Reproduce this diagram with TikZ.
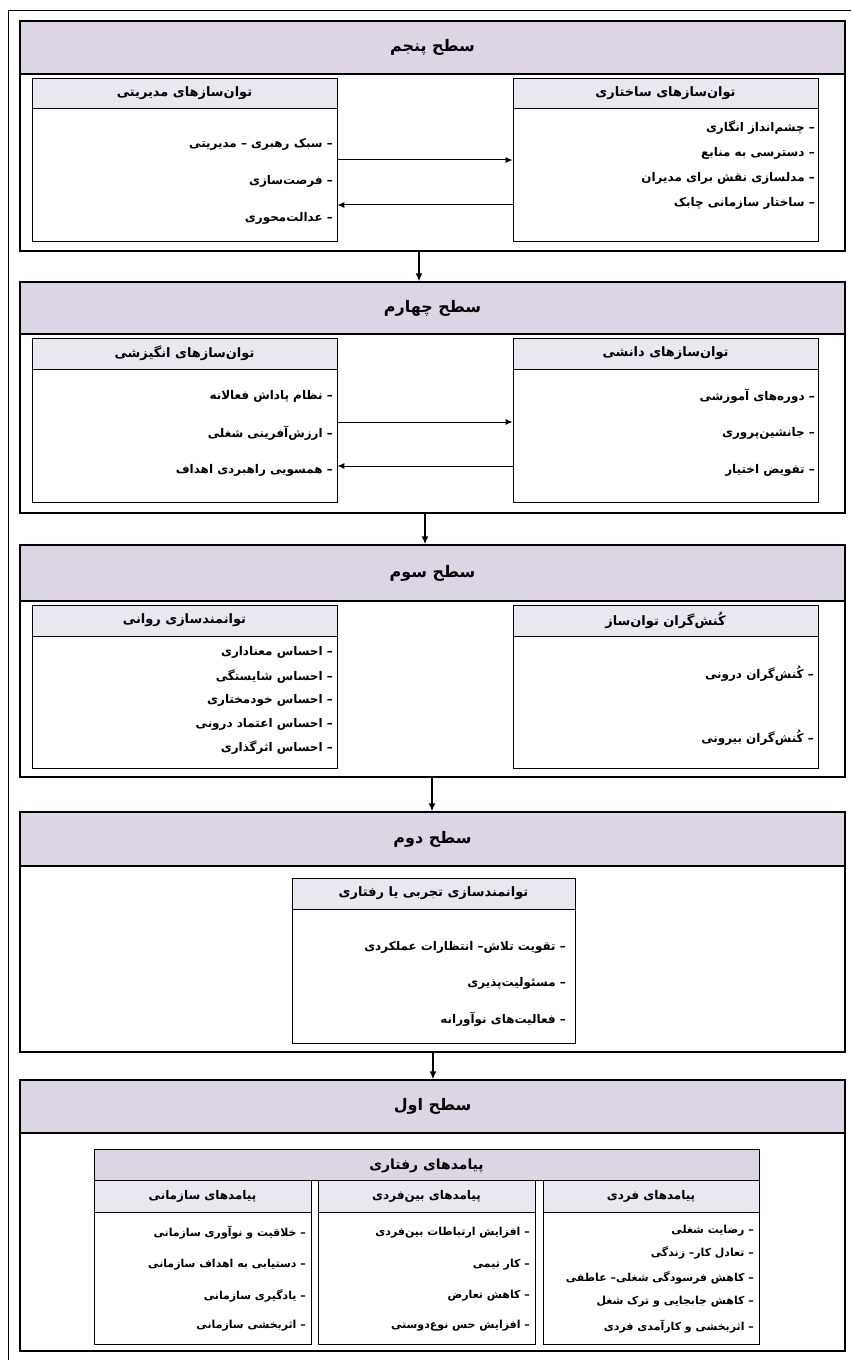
\documentclass[tikz,border=0pt]{standalone}
\usepackage{fontspec}
\usetikzlibrary{fit,arrows.meta}
\newfontfamily\fa[Script=Arabic]{DejaVu Sans}
\TeXXeTstate=1
\definecolor{headfill}{HTML}{DCD6E4}
\definecolor{subfill}{HTML}{EAE7F0}
\tikzset{
  frame/.style={draw=black, line width=1bp},
  lvl/.style={draw=black, line width=1.3bp, inner sep=0pt, fill=white},
  lvlhead/.style={draw=black, line width=1.3bp, inner sep=0pt, fill=headfill},
  lvltitle/.style={inner sep=0pt, font=\fa\bfseries\fontsize{16}{18}\selectfont},
  pbox/.style={draw=black, line width=0.9bp, inner sep=0pt, fill=white},
  pboxhead/.style={draw=black, line width=0.9bp, inner sep=0pt, fill=subfill},
  bighead/.style={draw=black, line width=0.9bp, inner sep=0pt, fill=headfill},
  boxtitle/.style={inner sep=0pt, font=\fa\bfseries\fontsize{13}{15}\selectfont},
  subtitle/.style={inner sep=0pt, font=\fa\bfseries\fontsize{12}{14}\selectfont},
  bigtitle/.style={inner sep=0pt, font=\fa\bfseries\fontsize{14}{16}\selectfont},
  itemtext/.style={anchor=east, inner sep=0pt, font=\fa\bfseries\fontsize{12}{14}\selectfont},
  smallitem/.style={anchor=east, inner sep=0pt, font=\fa\bfseries\fontsize{11}{13}\selectfont},
  harrow/.style={-{Latex[length=7bp,width=6bp]}, line width=1bp},
  varrow/.style={-{Latex[length=8bp,width=7bp]}, line width=1.8bp},
}
% level: name, top, headbottom, bottom, title
\newcommand{\level}[5]{%
  \node[lvl, fit={(20,#2) (845,#4)}] (#1) {};
  \node[lvlhead, fit={(20,#2) (845,#3)}] (#1h) {};
  \node[lvltitle] (#1t) at (#1h.center) {#5};
}
% inner box: style of title, name, x1, y1, x2, y2, yhead, title
\newcommand{\ibox}[8]{%
  \node[pbox, fit={(#3,#4) (#5,#6)}] (#2) {};
  \node[pboxhead, fit={(#3,#4) (#5,#7)}] (#2h) {};
  \node[#1] (#2t) at (#2h.center) {#8};
}
% item: style, name, x, y, text
\newcommand{\itm}[5]{\node[#1] (#2) at (#3,#4) {#5};}
\begin{document}
\begin{tikzpicture}[x=1bp,y=-1bp]
\useasboundingbox (0,0) rectangle (851,1360);
\draw[frame] (8.5,1360) -- (8.5,10.7) -- (851,10.7);

% ---------- Level 5 ----------
\level{L5}{21}{74}{251}{\beginR سطح پنجم\endR}
\ibox{boxtitle}{b5L}{32}{78}{337}{241}{108}{\beginR توان‌سازهای مدیریتی\endR}
\ibox{boxtitle}{b5R}{513}{78}{818}{241}{108}{\beginR توان‌سازهای ساختاری\endR}
\itm{itemtext}{i5L1}{333}{144}{\beginR – سبک رهبری – مدیریتی\endR}
\itm{itemtext}{i5L2}{333}{181}{\beginR – فرصت‌سازی\endR}
\itm{itemtext}{i5L3}{333}{218}{\beginR – عدالت‌محوری\endR}
\itm{itemtext}{i5R1}{815}{128}{\beginR – چشم‌انداز انگاری\endR}
\itm{itemtext}{i5R2}{815}{153}{\beginR – دسترسی به منابع\endR}
\itm{itemtext}{i5R3}{815}{178}{\beginR – مدلسازی نقش برای مدیران\endR}
\itm{itemtext}{i5R4}{815}{203}{\beginR – ساختار سازمانی چابک\endR}
\coordinate (h5a) at (0,160);
\coordinate (h5b) at (0,205);
\draw[harrow] (b5L.east |- h5a) -- (b5R.west |- h5a);
\draw[harrow] (b5R.west |- h5b) -- (b5L.east |- h5b);

% ---------- Level 4 ----------
\level{L4}{282}{334}{513}{\beginR سطح چهارم\endR}
\ibox{boxtitle}{b4L}{32}{338}{337}{502}{369}{\beginR توان‌سازهای انگیزشی\endR}
\ibox{boxtitle}{b4R}{513}{338}{818}{502}{369}{\beginR توان‌سازهای دانشی\endR}
\itm{itemtext}{i4L1}{333}{396}{\beginR – نظام پاداش فعالانه\endR}
\itm{itemtext}{i4L2}{333}{433}{\beginR – ارزش‌آفرینی شغلی\endR}
\itm{itemtext}{i4L3}{333}{470}{\beginR – همسویی راهبردی اهداف\endR}
\itm{itemtext}{i4R1}{815}{396}{\beginR – دوره‌های آموزشی\endR}
\itm{itemtext}{i4R2}{815}{433}{\beginR – جانشین‌پروری\endR}
\itm{itemtext}{i4R3}{815}{470}{\beginR – تفویض اختیار\endR}
\coordinate (h4a) at (0,422);
\coordinate (h4b) at (0,466);
\draw[harrow] (b4L.east |- h4a) -- (b4R.west |- h4a);
\draw[harrow] (b4R.west |- h4b) -- (b4L.east |- h4b);

% ---------- Level 3 ----------
\level{L3}{545}{601}{777}{\beginR سطح سوم\endR}
\ibox{boxtitle}{b3L}{32}{605}{337}{768}{636}{\beginR توانمندسازی روانی\endR}
\ibox{boxtitle}{b3R}{513}{605}{818}{768}{636}{\beginR کُنش‌گران توان‌ساز\endR}
\itm{itemtext}{i3L1}{333}{652}{\beginR – احساس معناداری\endR}
\itm{itemtext}{i3L2}{333}{677}{\beginR – احساس شایستگی\endR}
\itm{itemtext}{i3L3}{333}{700}{\beginR – احساس خودمختاری\endR}
\itm{itemtext}{i3L4}{333}{724}{\beginR – احساس اعتماد درونی\endR}
\itm{itemtext}{i3L5}{333}{748}{\beginR – احساس اثرگذاری\endR}
\itm{itemtext}{i3R1}{814}{674}{\beginR – کُنش‌گران درونی\endR}
\itm{itemtext}{i3R2}{814}{738}{\beginR – کُنش‌گران بیرونی\endR}

% ---------- Level 2 ----------
\level{L2}{812}{866}{1052}{\beginR سطح دوم\endR}
\ibox{boxtitle}{b2}{292}{878}{575}{1043}{909}{\beginR توانمندسازی تجربی یا رفتاری\endR}
\itm{itemtext}{i21}{566}{947}{\beginR – تقویت تلاش– انتظارات عملکردی\endR}
\itm{itemtext}{i22}{566}{983}{\beginR – مسئولیت‌پذیری\endR}
\itm{itemtext}{i23}{566}{1019}{\beginR – فعالیت‌های نوآورانه\endR}

% ---------- Level 1 ----------
\level{L1}{1080}{1133}{1351}{\beginR سطح اول\endR}
\node[bighead, fit={(94,1149) (759,1180)}] (big) {};
\node[bigtitle] (bigt) at ([yshift=-1bp]big.center) {\beginR پیامدهای رفتاری\endR};
\ibox{subtitle}{s1}{94}{1180}{311}{1344}{1212}{\beginR پیامدهای سازمانی\endR}
\ibox{subtitle}{s2}{318}{1180}{535}{1344}{1212}{\beginR پیامدهای بین‌فردی\endR}
\ibox{subtitle}{s3}{543}{1180}{759}{1344}{1212}{\beginR پیامدهای فردی\endR}
\itm{smallitem}{i1a1}{306}{1233}{\beginR – خلاقیت و نوآوری سازمانی\endR}
\itm{smallitem}{i1a2}{306}{1265}{\beginR – دستیابی به اهداف سازمانی\endR}
\itm{smallitem}{i1a3}{306}{1296}{\beginR – یادگیری سازمانی\endR}
\itm{smallitem}{i1a4}{306}{1326}{\beginR – اثربخشی سازمانی\endR}
\itm{smallitem}{i1b1}{530}{1233}{\beginR – افزایش ارتباطات بین‌فردی\endR}
\itm{smallitem}{i1b2}{530}{1265}{\beginR – کار تیمی\endR}
\itm{smallitem}{i1b3}{530}{1296}{\beginR – کاهش تعارض\endR}
\itm{smallitem}{i1b4}{530}{1326}{\beginR – افزایش حس نوع‌دوستی\endR}
\itm{smallitem}{i1c1}{754}{1231}{\beginR – رضایت شغلی\endR}
\itm{smallitem}{i1c2}{754}{1253}{\beginR – تعادل کار– زندگی\endR}
\itm{smallitem}{i1c3}{754}{1278}{\beginR – کاهش فرسودگی شغلی– عاطفی\endR}
\itm{smallitem}{i1c4}{754}{1302}{\beginR – کاهش جابجایی و ترک شغل\endR}
\itm{smallitem}{i1c5}{754}{1327}{\beginR – اثربخشی و کارآمدی فردی\endR}

% ---------- vertical connectors ----------
\coordinate (ax5) at (419,0);
\coordinate (ax4) at (425,0);
\coordinate (ax3) at (432,0);
\coordinate (ax2) at (433,0);
\draw[varrow] (L5.south -| ax5) -- (L4.north -| ax5);
\draw[varrow] (L4.south -| ax4) -- (L3.north -| ax4);
\draw[varrow] (L3.south -| ax3) -- (L2.north -| ax3);
\draw[varrow] (L2.south -| ax2) -- (L1.north -| ax2);
\end{tikzpicture}
\end{document}
